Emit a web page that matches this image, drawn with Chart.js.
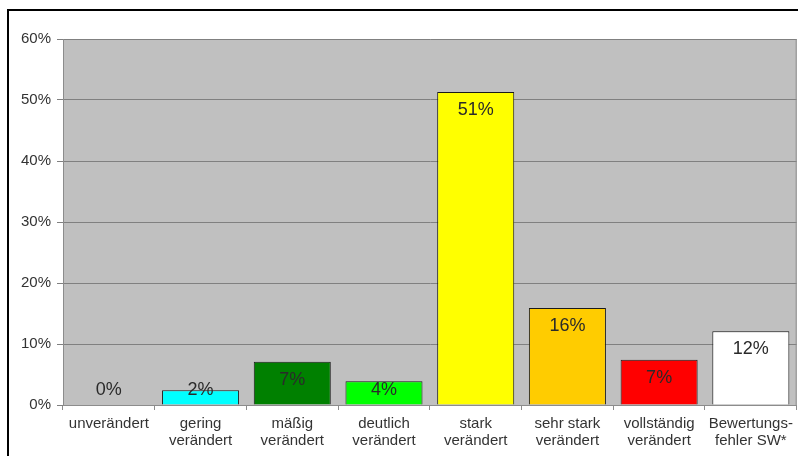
<!DOCTYPE html>
<html><head><meta charset="utf-8">
<script src="https://cdn.jsdelivr.net/npm/chart.js@4"></script>
<style>
html,body{margin:0;padding:0;background:#fff;}
#wrap{position:relative;width:798px;height:456px;overflow:hidden;}
#frame{position:absolute;left:7px;top:9px;width:900px;height:600px;border-left:2px solid #000;border-top:2px solid #000;}
canvas{position:absolute;left:0;top:0;}
</style></head>
<body><div id="wrap"><div id="frame"></div><canvas id="c" width="798" height="456"></canvas></div>
<script>
const categories = [
  "unverändert",
  ["gering","verändert"],
  ["mäßig","verändert"],
  ["deutlich","verändert"],
  ["stark","verändert"],
  ["sehr stark","verändert"],
  ["vollständig","verändert"],
  ["Bewertungs-","fehler SW*"]
];
const values = [0, 2.4, 7.1, 3.9, 51.3, 15.9, 7.4, 12.1];
const colors = ["#ffffff","#00ffff","#008000","#00ff00","#ffff00","#ffcc00","#ff0000","#ffffff"];
const yTicks = [0,10,20,30,40,50,60];

const plotBg = {
  id:'plotBg',
  beforeDraw(chart){
    const {ctx, chartArea:a} = chart;
    ctx.save();
    ctx.fillStyle = '#c0c0c0';
    ctx.fillRect(a.left, a.top, a.right-a.left, a.bottom-a.top);
    ctx.restore();
  },
  afterDatasetsDraw(chart){
    const {ctx, chartArea:a} = chart;
    ctx.save();
    ctx.strokeStyle = '#8c8c8c';
    ctx.lineWidth = 1;
    ctx.beginPath();
    ctx.moveTo(a.right-0.5, a.top); ctx.lineTo(a.right-0.5, a.bottom);
    ctx.stroke();
    const meta = chart.getDatasetMeta(0);
    const base = chart.scales.y.getPixelForValue(0);
    ctx.font = '18px "Liberation Sans", Arial, sans-serif';
    ctx.fillStyle = '#2a2a2a';
    ctx.textAlign = 'center';
    ctx.textBaseline = 'middle';
    meta.data.forEach((bar,i)=>{
      const y = Math.min(bar.y + 18, base - 15);
      ctx.fillText(Math.round(values[i]) + '%', bar.x, y);
    });
    ctx.restore();
  }
};

new Chart(document.getElementById('c'), {
  type:'bar',
  data:{
    labels: categories,
    datasets:[{
      data: values,
      backgroundColor: colors,
      borderColor: '#1a1a1a',
      borderWidth: 1,
      borderSkipped: 'bottom',
      categoryPercentage: 1.0,
      barPercentage: 0.84
    }]
  },
  options:{
    responsive:false,
    animation:false,
    devicePixelRatio:1,
    layout:{padding:{top:39,right:1,left:0,bottom:0}},
    plugins:{legend:{display:false},tooltip:{enabled:false}},
    scales:{
      x:{
        grid:{display:true, drawOnChartArea:false, offset:true, color:'#8c8c8c', tickLength:5},
        border:{display:true, color:'#8c8c8c'},
        ticks:{color:'#333', font:{family:'"Liberation Sans", Arial, sans-serif', size:15, lineHeight:1.17}, padding:5, maxRotation:0, autoSkip:false},
        afterFit(s){ s.height = 51; }
      },
      y:{
        min:0, max:60,
        afterBuildTicks(s){ s.ticks = yTicks.map(v=>({value:v})); },
        grid:{color:'#808080', tickLength:6, lineWidth:1},
        border:{display:true, color:'#8c8c8c'},
        ticks:{color:'#333', font:{family:'"Liberation Sans", Arial, sans-serif', size:15}, padding:6, callback:v=>v+'%'},
        afterFit(s){ s.width = 63; }
      }
    }
  },
  plugins:[plotBg]
});
</script></body></html>
